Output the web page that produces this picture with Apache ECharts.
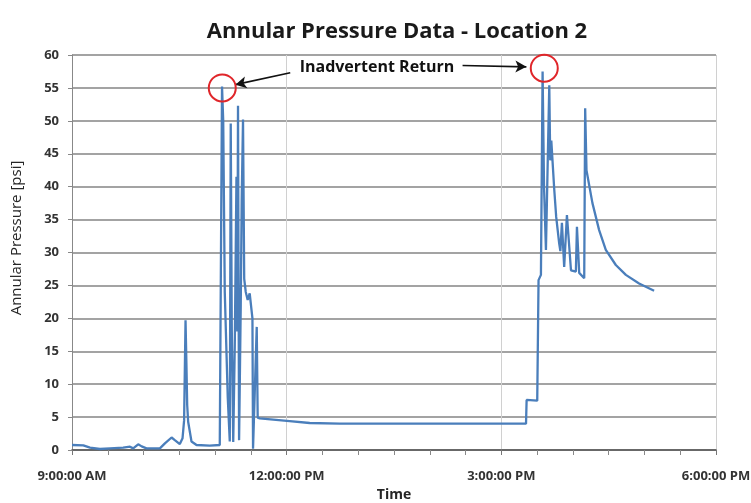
<!DOCTYPE html>
<html><head><meta charset="utf-8">
<script src="https://cdn.jsdelivr.net/npm/echarts@6/dist/echarts.min.js"></script>
<style>html,body{margin:0;padding:0;background:#fff}#c{width:751px;height:503px}</style>
</head><body><div id="c"></div>
<script>
// Clock times of the readings
const times = [
 '09:00:00','09:09:30','09:15:06','09:23:24','09:31:48','09:42:54','09:48:36','09:51:18','09:55:30','09:58:24',
 '10:02:30','10:13:42','10:17:54','10:23:30','10:26:12','10:30:24','10:32:42','10:34:00','10:35:12','10:36:00',
 '10:36:36','10:37:24','10:40:12','10:44:24','10:55:30','11:03:54','11:05:48','11:06:48','11:08:06','11:10:36',
 '11:12:18','11:13:06','11:14:00','11:15:12','11:16:30','11:17:54','11:18:36','11:19:12','11:20:06','11:21:30',
 '11:22:18','11:23:24','11:24:24','11:25:42','11:27:18','11:29:00','11:30:18','11:31:18','11:31:48','11:33:12',
 '11:34:54','11:35:42','11:37:24','12:02:30','12:19:18','12:44:24','13:34:36','15:20:42','15:21:12','15:30:06',
 '15:31:12','15:33:12','15:34:36','15:35:48','15:37:24','15:40:12','15:41:00','15:41:54','15:44:24','15:46:00',
 '15:48:30','15:49:30','15:50:48','15:52:42','15:55:00','15:58:24','16:02:30','16:03:24','16:05:18','16:09:30',
 '16:10:18','16:11:24','16:16:24','16:22:00','16:27:36','16:36:00','16:44:24','16:55:30','17:08:06'
];
// Annular pressure [psi]
const pressures = [
 0.76,0.7,0.35,0.15,0.25,0.35,0.5,0.25,0.86,0.55,
 0.25,0.25,1.0,1.9,1.5,0.9,1.8,4.5,19.7,12.5,
 6.8,4.3,1.3,0.76,0.65,0.76,55.2,50,24,8,
 1.3,49.6,18,1.2,16,41.5,18,52.3,1.5,22,
 38,50.2,26,24,22.8,23.8,23.5,20,0.2,0.3,
 18.7,4.9,4.8,4.4,4.1,4.0,4.0,4.0,7.6,7.5,
 25.8,26.6,57.5,40,30.4,55.4,44,47,39.5,35.4,
 31.4,30.2,34.5,27.8,35.7,27.3,27.1,33.9,26.9,26.1,
 51.9,42.5,37.5,33.4,30.4,28.1,26.6,25.3,24.2
];
const xTickLabels = {9:'9:00:00 AM',12:'12:00:00 PM',15:'3:00:00 PM',18:'6:00:00 PM'};
const circledTimes = ['11:06:00','15:36:00'];
const circledValues = [55.0, 58.0];

function toHours(t){const p=t.split(':').map(Number);return p[0]+p[1]/60+p[2]/3600;}
const data = times.map((t,i)=>[toHours(t),pressures[i]]);

const chart = echarts.init(document.getElementById('c'),null,{renderer:'canvas'});
const lblFont = 'Open Sans';
chart.setOption({
  animation:false,
  backgroundColor:'#fff',
  title:{text:'Annular Pressure Data - Location 2',left:392,top:16,textAlign:'center',
    textStyle:{fontFamily:lblFont,fontSize:22,fontWeight:'bold',color:'#1a1a1a'}},
  grid:{left:72,right:35,top:55,bottom:53,containLabel:false,outerBoundsMode:'none'},
  xAxis:{type:'value',min:9,max:18,interval:3,
    name:'Time',nameLocation:'middle',nameGap:36,
    nameTextStyle:{fontFamily:lblFont,fontSize:14,fontWeight:'bold',color:'#262626'},
    axisLine:{show:true,lineStyle:{color:'#555',width:1.6}},
    axisTick:{show:true,length:5,lineStyle:{color:'#777'}},
    minorTick:{show:true,splitNumber:6,length:5,lineStyle:{color:'#888'}},
    axisLabel:{margin:20,fontFamily:lblFont,fontSize:13,fontWeight:'bold',color:'#333',
      formatter:v=>xTickLabels[v]||''},
    splitLine:{show:true,lineStyle:{color:'#d0d0d0',width:1}}
  },
  yAxis:{type:'value',min:0,max:60,interval:5,
    axisLine:{show:true,lineStyle:{color:'#888',width:1}},
    axisTick:{show:true,length:4,lineStyle:{color:'#888'}},
    axisLabel:{margin:13,fontFamily:lblFont,fontSize:13,fontWeight:'bold',color:'#333'},
    splitLine:{show:true,lineStyle:{color:'#858585',width:1.5}}
  },
  graphic:[
    {type:'text',x:17,y:238,rotation:Math.PI/2,
      style:{text:'Annular Pressure [psi]',fill:'#262626',font:'15px "Open Sans"',
        textAlign:'center',textVerticalAlign:'middle',align:'center',verticalAlign:'middle'}},
    {type:'text',x:377,y:67,
      style:{text:'Inadvertent Return',fill:'#111',font:'bold 16px "Open Sans"',
        textAlign:'center',textVerticalAlign:'middle',align:'center',verticalAlign:'middle'}}
  ],
  series:[{
    type:'line',data:data,showSymbol:false,smooth:false,
    lineStyle:{color:'#4a7ebb',width:2.3},itemStyle:{color:'#4a7ebb'},
    markPoint:{silent:true,symbol:'circle',symbolSize:27,label:{show:false},
      itemStyle:{color:'rgba(0,0,0,0)',borderColor:'#e0262a',borderWidth:2},
      data:circledTimes.map((t,i)=>({coord:[toHours(t),circledValues[i]]}))},
    markLine:{silent:true,symbol:['none','arrow'],symbolSize:[9,11],label:{show:false},
      lineStyle:{color:'#111',width:1.6,type:'solid'},
      data:[
        [{coord:[toHours('12:03:00'),57.3]},{coord:[toHours('11:17:00'),55.5]}],
        [{coord:[toHours('14:27:30'),58.4]},{coord:[toHours('15:21:00'),58.2]}]
      ]}
  }]
});
</script></body></html>
